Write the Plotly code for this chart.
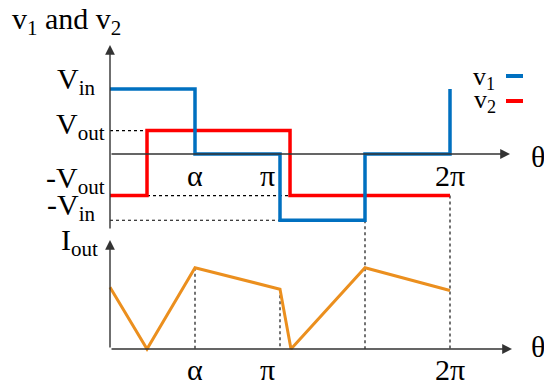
import math
import plotly.graph_objects as go

# ---- waveform data (theta in radians) ----
ALPHA = math.pi / 2          # firing angle of v1
PHI = 0.684                  # v2 rising edge
PHI2 = 3.327                 # v2 falling edge

# voltage levels
V_IN = 1.0
V_OUT = 0.36
NEG_V_OUT = -0.64
NEG_V_IN = -1.02

# v1: quasi-square wave
v1_theta = [0, ALPHA, ALPHA, math.pi, math.pi, 1.5 * math.pi, 1.5 * math.pi, 2 * math.pi, 2 * math.pi]
v1_vals = [V_IN, V_IN, 0, 0, NEG_V_IN, NEG_V_IN, 0, 0, V_IN]

# v2: square wave
v2_theta = [0, PHI, PHI, PHI2, PHI2, 2 * math.pi]
v2_vals = [NEG_V_OUT, NEG_V_OUT, V_OUT, V_OUT, NEG_V_OUT, NEG_V_OUT]

# output current (piecewise linear)
i_theta = [0, PHI, ALPHA, math.pi, 3.345, 1.5 * math.pi, 2 * math.pi]
i_vals = [0.95, 0.0, 1.25, 0.92, 0.0, 1.25, 0.90]
I_BASE = -3.0  # vertical offset of the current plot

# tick labels on the theta axis
tick_theta = [ALPHA, math.pi, 2 * math.pi]
tick_text = ["α", "π", "2π"]

# level labels on the voltage axis
level_vals = [V_IN, V_OUT, NEG_V_OUT, NEG_V_IN]
level_text = ["V<sub>in</sub>", "V<sub>out</sub>", "-V<sub>out</sub>", "-V<sub>in</sub>"]

# ---- layout geometry ----
W, H = 544, 387
X0_PX, Y0_PX = 110, 154
PX_PER_RAD = 340 / (2 * math.pi)
PX_PER_UNIT = 65

BLUE = "#0070C0"
RED = "#FF0000"
ORANGE = "#EB8F1E"
AXIS = "#333333"
FONT = "Liberation Serif"
FS = 30

# label placement tweaks (pixels)
tick_shift = [0, -13, 0]
level_right = [97, 106, 106, 96]
level_lift = [8, 5, 16, 13]

fig = go.Figure()

def line(x, y, color, width, dash="solid"):
    fig.add_trace(go.Scatter(x=x, y=y, mode="lines", hoverinfo="skip",
                             line=dict(color=color, width=width, dash=dash)))

# dotted guide lines
line([0, PHI], [V_OUT, V_OUT], "black", 1.1, "dot")
line([PHI, PHI2], [NEG_V_OUT, NEG_V_OUT], "black", 1.1, "dot")
line([0, math.pi], [NEG_V_IN, NEG_V_IN], "black", 1.1, "dot")
line([1.5 * math.pi, 1.5 * math.pi], [NEG_V_IN, I_BASE], "black", 1.1, "dot")
line([2 * math.pi, 2 * math.pi], [NEG_V_OUT, I_BASE], "black", 1.1, "dot")
line([ALPHA, ALPHA], [I_BASE + i_vals[2], I_BASE], "black", 1.1, "dot")
line([math.pi, math.pi], [I_BASE + i_vals[3], I_BASE], "black", 1.1, "dot")

# waveforms
line(v2_theta, v2_vals, RED, 3.5)
line(v1_theta, v1_vals, BLUE, 3.5)
line(i_theta, [I_BASE + v for v in i_vals], ORANGE, 3)

# axes with arrowheads
ann = []
def arrow(x0, y0, x1, y1):
    ann.append(dict(x=x1, y=y1, ax=x0, ay=y0, xref="x", yref="y", axref="x", ayref="y",
                    text="", showarrow=True, arrowhead=2, arrowsize=1.4,
                    arrowwidth=1.4, arrowcolor=AXIS))

arrow(0, 0, (510 - X0_PX) / PX_PER_RAD, 0)
arrow(0, -1.17, 0, (Y0_PX - 45) / PX_PER_UNIT)
arrow(0, I_BASE, (512 - X0_PX) / PX_PER_RAD, I_BASE)
arrow(0, I_BASE, 0, (Y0_PX - 240) / PX_PER_UNIT)

def text(s, x, y, size=FS, xref="paper", yref="paper", xanchor="center", yanchor="middle",
         xshift=0, yshift=0):
    ann.append(dict(text=s, x=x, y=y, xref=xref, yref=yref, xanchor=xanchor, yanchor=yanchor,
                    xshift=xshift, yshift=yshift, showarrow=False, borderpad=0,
                    font=dict(family=FONT, size=size, color="black")))

def pxx(p):
    return p / W

def pxy(p):
    return 1 - p / H

text("v<sub>1</sub> and v<sub>2</sub>", pxx(66), pxy(21))

for v, s, r, lift in zip(level_vals, level_text, level_right, level_lift):
    text(s, pxx(r), v, yref="y", xanchor="right", yshift=lift)
text("I<sub>out</sub>", pxx(99), pxy(242), xanchor="right")

for th, s, sh in zip(tick_theta, tick_text, tick_shift):
    text(s, th, pxy(175), xref="x", xshift=sh)
    text(s, th, pxy(369), xref="x", xshift=sh)
text("θ", pxx(538), pxy(156))
text("θ", pxx(538), pxy(346))

# legend
text("v<sub>1</sub>", pxx(496), pxy(78), xanchor="right", size=26)
text("v<sub>2</sub>", pxx(497), pxy(101), xanchor="right", size=26)
fig.add_shape(type="line", xref="paper", yref="paper", x0=pxx(506), x1=pxx(523), y0=pxy(76), y1=pxy(76),
              line=dict(color=BLUE, width=4))
fig.add_shape(type="line", xref="paper", yref="paper", x0=pxx(506), x1=pxx(523), y0=pxy(101), y1=pxy(101),
              line=dict(color=RED, width=4))

fig.update_layout(
    width=W, height=H, margin=dict(l=0, r=0, t=0, b=0),
    paper_bgcolor="white", plot_bgcolor="white", showlegend=False,
    annotations=ann,
    xaxis=dict(visible=False, range=[-X0_PX / PX_PER_RAD, (W - X0_PX) / PX_PER_RAD]),
    yaxis=dict(visible=False, range=[-(H - Y0_PX) / PX_PER_UNIT, Y0_PX / PX_PER_UNIT]),
)

fig.write_html("out.html")
